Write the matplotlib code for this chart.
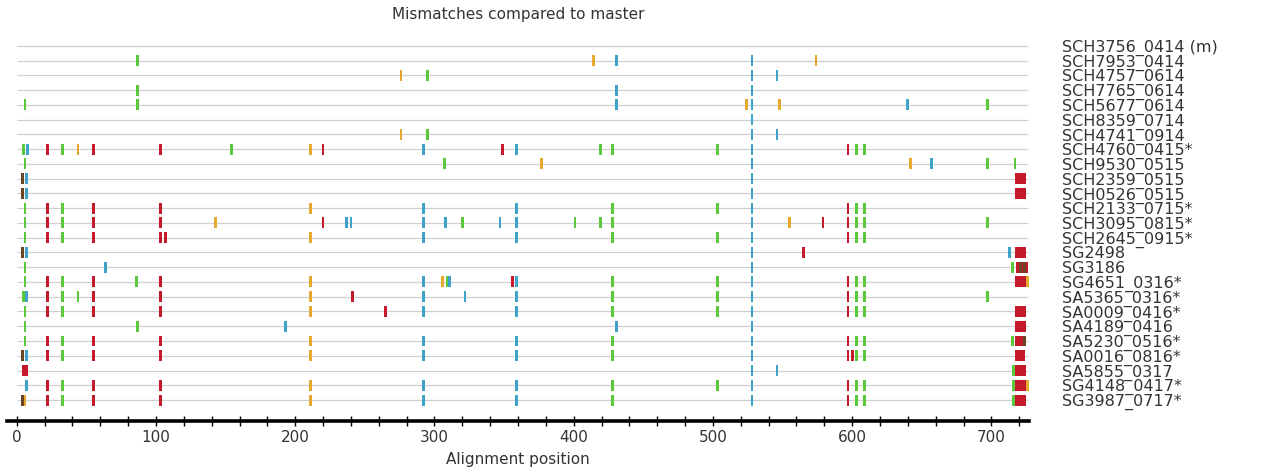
import matplotlib.pyplot as plt

plt.rcParams["font.family"] = ["DejaVu Sans"]

SAMPLES = [
    "SCH3756_0414 (m)", "SCH7953_0414", "SCH4757_0614", "SCH7765_0614",
    "SCH5677_0614", "SCH8359_0714", "SCH4741_0914", "SCH4760_0415*",
    "SCH9530_0515", "SCH2359_0515", "SCH0526_0515", "SCH2133_0715*",
    "SCH3095_0815*", "SCH2645_0915*", "SG2498", "SG3186",
    "SG4651_0316*", "SA5365_0316*", "SA0009_0416*", "SA4189_0416",
    "SA5230_0516*", "SA0016_0816*", "SA5855_0317", "SG4148_0417*",
    "SG3987_0717*",
]

# mismatch positions per sample (same order as SAMPLES), one list per base
A_POS = [
    [], [87], [295], [87], [6, 87, 697], [], [295],
    [5, 33, 154, 419, 428, 503, 603, 609],
    [6, 307, 697, 717],
    [], [],
    [6, 33, 428, 503, 603, 609],
    [6, 33, 320, 401, 419, 428, 603, 609, 697],
    [6, 33, 428, 503, 603, 609],
    [],
    [6, 715],
    [6, 33, 86, 309, 428, 503, 603, 609],
    [5, 33, 44, 428, 503, 603, 609, 697],
    [6, 33, 428, 503, 603, 609],
    [6, 87],
    [6, 33, 428, 603, 609, 715],
    [33, 428, 603, 609],
    [716],
    [33, 428, 503, 603, 609, 716],
    [33, 428, 603, 609, 716],
]

C_POS = [
    [], [431, 528], [528, 546], [431, 528], [431, 528, 640], [528],
    [528, 546],
    [8, 292, 359, 528],
    [528, 657],
    [7, 528], [7, 528],
    [292, 359, 528],
    [237, 240, 292, 308, 347, 359, 528],
    [292, 359, 528],
    [7, 528, 713],
    [64, 528],
    [292, 311, 359, 528],
    [7, 292, 322, 359, 528],
    [292, 359, 528],
    [193, 431, 528],
    [292, 359, 528],
    [7, 292, 359, 528],
    [528, 546],
    [7, 292, 359, 528],
    [292, 359, 528],
]

G_POS = [
    [], [414, 574], [276], [], [524, 548], [], [276],
    [44, 211],
    [377, 642],
    [], [],
    [211],
    [143, 555],
    [211],
    [], [],
    [211, 306, 726],
    [211],
    [211],
    [],
    [211],
    [211],
    [],
    [211, 726],
    [6, 211],
]

T_POS = [
    [], [], [], [], [], [], [],
    [22, 55, 103, 220, 349, 597],
    [],
    [718, 719, 720, 721, 722, 723, 724],
    [718, 719, 720, 721, 722, 723, 724],
    [22, 55, 103, 597],
    [22, 55, 103, 220, 579, 597],
    [22, 55, 103, 107, 597],
    [565, 718, 719, 720, 721, 722, 723, 724],
    [719, 720, 721, 722, 723, 724, 725],
    [22, 55, 103, 356, 597, 718, 719, 720, 721, 722, 723, 724],
    [22, 55, 103, 241, 597],
    [22, 55, 103, 265, 597, 718, 719, 720, 721, 722, 723, 724],
    [718, 719, 720, 721, 722, 723, 724],
    [22, 55, 103, 597, 718, 719, 720, 721, 722, 723, 724],
    [22, 55, 103, 597, 600, 718, 719, 720, 721, 722, 723],
    [5, 6, 7, 718, 719, 720, 721, 722, 723, 724],
    [22, 55, 103, 597, 718, 719, 720, 721, 722, 723, 724],
    [22, 55, 103, 597, 718, 719, 720, 721, 722, 723, 724],
]

OTHER_POS = [
    [], [], [], [], [], [], [], [], [],
    [4], [4], [], [], [], [4], [721, 724], [], [], [], [], [724],
    [4], [], [], [4],
]

SEQ_LENGTH = 726

COLORS = {
    "A": "#5cc93c",
    "C": "#3fa3c9",
    "G": "#e3a82c",
    "T": "#c41a2c",
    "other": "#6b4423",
}

MARK_W = 2.0
MARK_H = 0.74


def draw_marks(ax, positions, color):
    for row, pos_list in enumerate(positions):
        if not pos_list:
            continue
        ax.broken_barh(
            [(p - MARK_W / 2, MARK_W) for p in pos_list],
            (row - MARK_H / 2, MARK_H),
            facecolors=color,
            zorder=3,
        )


def main():
    fig = plt.figure(figsize=(12.64, 4.68), dpi=100)
    ax = fig.add_axes([7 / 1264, 1 - 421 / 468, 1022 / 1264, 390 / 468])

    rows = range(len(SAMPLES))
    ax.hlines(rows, 0, SEQ_LENGTH, color="#d0d0d0", linewidth=0.9, zorder=1)

    draw_marks(ax, A_POS, COLORS["A"])
    draw_marks(ax, G_POS, COLORS["G"])
    draw_marks(ax, C_POS, COLORS["C"])
    draw_marks(ax, T_POS, COLORS["T"])
    draw_marks(ax, OTHER_POS, COLORS["other"])

    ax.set_xlim(-7, 727)
    ax.set_ylim(len(SAMPLES) + 0.42, -1)

    for side in ("left", "right", "top"):
        ax.spines[side].set_visible(False)
    ax.spines["bottom"].set_linewidth(2.6)

    ax.set_xticks(range(0, 701, 100))
    ax.set_xticks(range(0, 721, 20), minor=True)
    ax.tick_params(axis="x", which="both", direction="inout", length=7,
                   width=1.0, labelsize=11, labelcolor="#333333", pad=3)

    ax.yaxis.tick_right()
    ax.set_yticks(list(rows))
    ax.set_yticklabels(SAMPLES)
    ax.tick_params(axis="y", length=0, pad=24, labelsize=11.5,
                   labelcolor="#333333")

    ax.set_title("Mismatches compared to master", fontsize=11,
                 color="#333333", pad=9)
    ax.set_xlabel("Alignment position", fontsize=11, color="#333333",
                  labelpad=5)

    fig.savefig("out.png", dpi=100)


if __name__ == "__main__":
    main()
